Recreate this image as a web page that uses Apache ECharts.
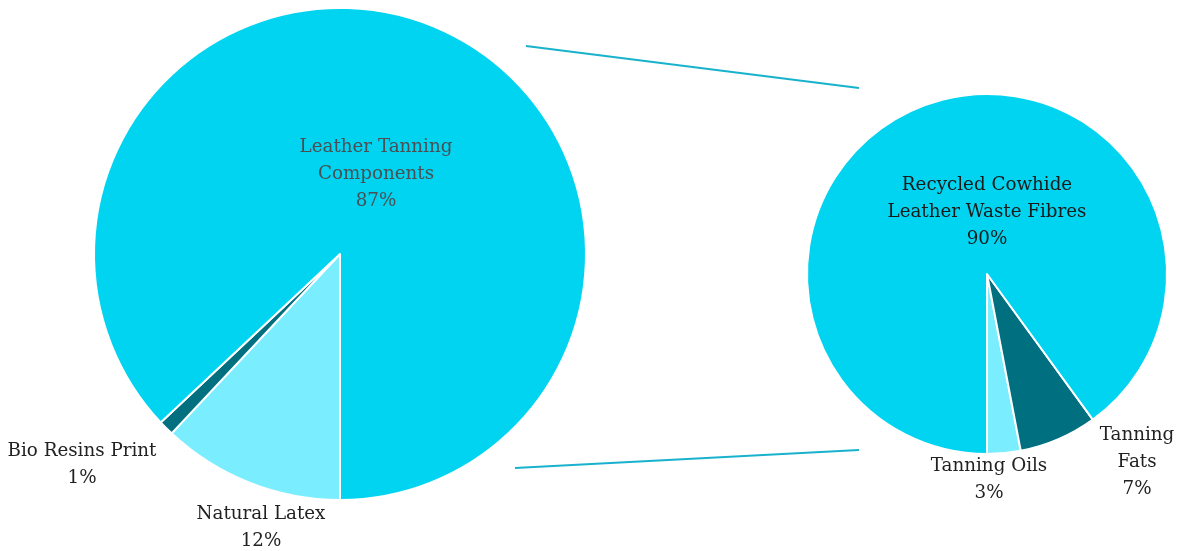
<!DOCTYPE html>
<html>
<head>
<meta charset="utf-8">
<style>
  html, body { margin: 0; padding: 0; background: #ffffff; }
  #chart { width: 1184px; height: 551px; }
</style>
<script src="https://cdn.jsdelivr.net/npm/echarts@6/dist/echarts.min.js"></script>
</head>
<body>
<div id="chart"></div>
<script>
// ---- Data ----
const mainCategories = ['Natural Latex', 'Bio Resins Print', 'Leather Tanning Components'];
const mainValues = [12, 1, 87];
const mainLabels = ['Natural Latex', 'Bio Resins Print', 'Leather Tanning\nComponents'];

const detailCategories = ['Tanning Oils', 'Tanning Fats', 'Recycled Cowhide Leather Waste Fibres'];
const detailValues = [3, 7, 90];
const detailLabels = ['Tanning Oils', 'Tanning\nFats', 'Recycled Cowhide\nLeather Waste Fibres'];

// ---- Styles ----
const colMain = '#00d4f0';
const colLight = '#7aeeff';
const colDark = '#006f7f';
const mainColors = [colLight, colDark, colMain];
const detailColors = [colLight, colDark, colMain];
const FONT = 'DejaVu Serif';

// label anchor positions (pixel centres of label blocks)
const mainLabelPos = [[261, 528], [82, 465], [376, 174]];
const detailLabelPos = [[989, 480], [1137, 462], [987, 212]];
const mainLabelColors = ['#222222', '#222222', '#4a4f53'];
const detailLabelColors = ['#222222', '#222222', '#1a1a1a'];

function buildData(cats, vals, labels, colors, labelColors) {
  return cats.map((c, i) => ({
    name: c,
    value: vals[i],
    itemStyle: { color: colors[i] },
    label: {
      formatter: labels[i] + '\n{d}%',
      color: labelColors[i]
    }
  }));
}

const chart = echarts.init(document.getElementById('chart'), null, { renderer: 'canvas' });

const commonLabel = {
  show: true,
  position: 'inside',
  fontFamily: FONT,
  fontSize: 18.3,
  lineHeight: 27,
  align: 'center',
  verticalAlign: 'middle'
};

const option = {
  animation: false,
  backgroundColor: '#ffffff',
  graphic: [
    { type: 'line', shape: { x1: 526, y1: 46, x2: 859, y2: 88 }, style: { stroke: '#19b2cc', lineWidth: 2 } },
    { type: 'line', shape: { x1: 515, y1: 468, x2: 859, y2: 450 }, style: { stroke: '#19b2cc', lineWidth: 2 } }
  ],
  series: [
    {
      type: 'pie',
      center: [340, 254],
      radius: [0, 246],
      startAngle: 270,
      clockwise: true,
      avoidLabelOverlap: false,
      itemStyle: { borderColor: '#ffffff', borderWidth: 2 },
      label: Object.assign({}, commonLabel),
      labelLine: { show: false },
      emphasis: { disabled: true },
      labelLayout: function (p) {
        const pos = mainLabelPos[p.dataIndex];
        return { x: pos[0], y: pos[1], align: 'center', verticalAlign: 'middle', hideOverlap: false };
      },
      data: buildData(mainCategories, mainValues, mainLabels, mainColors, mainLabelColors)
    },
    {
      type: 'pie',
      center: [987, 274],
      radius: [0, 180],
      startAngle: 270,
      clockwise: false,
      avoidLabelOverlap: false,
      itemStyle: { borderColor: '#ffffff', borderWidth: 2 },
      label: Object.assign({}, commonLabel),
      labelLine: { show: false },
      emphasis: { disabled: true },
      labelLayout: function (p) {
        const pos = detailLabelPos[p.dataIndex];
        return { x: pos[0], y: pos[1], align: 'center', verticalAlign: 'middle', hideOverlap: false };
      },
      data: buildData(detailCategories, detailValues, detailLabels, detailColors, detailLabelColors)
    }
  ]
};

chart.setOption(option);
</script>
</body>
</html>
